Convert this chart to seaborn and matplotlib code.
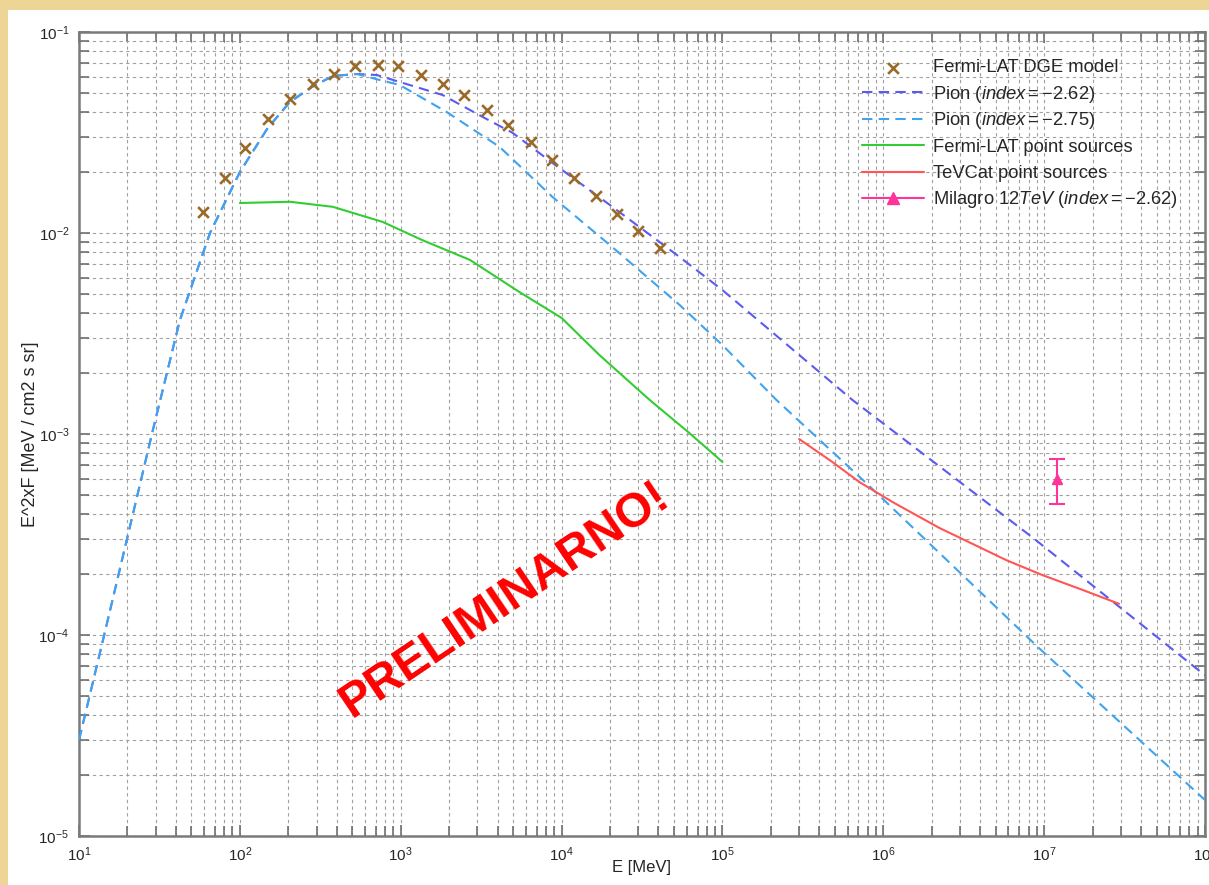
import numpy as np
import pandas as pd
import matplotlib
matplotlib.use("Agg")
import matplotlib.pyplot as plt
from matplotlib.patches import Rectangle
from matplotlib.lines import Line2D
from matplotlib.ticker import LogLocator, NullFormatter
import seaborn as sns

# ---------------- data ----------------
dge_E = [58.9, 80.7, 107, 149, 205, 284, 384, 518, 720, 958, 1330, 1820, 2460,
         3420, 4620, 6420, 8670, 11880, 16260, 21970, 30070, 41200]
dge_F = [0.0127, 0.0188, 0.0265, 0.0369, 0.0464, 0.0551, 0.0618, 0.0678, 0.0686,
         0.0678, 0.061, 0.0551, 0.0486, 0.0409, 0.0344, 0.0284, 0.0231, 0.0188,
         0.0153, 0.01245, 0.01024, 0.0084]

pion262_E = [10, 14.3, 28.4, 42.4, 65.2, 100, 149, 205, 280, 378, 533, 710, 986,
             1820, 3230, 4960, 8790, 20700, 54100, 1e5, 6.41e5, 8.41e6, 1e8]
pion262_F = [3.0e-5, 9.9e-5, 1.0e-3, 3.69e-3, 1.0e-2, 2.01e-2, 3.33e-2, 4.49e-2,
             5.32e-2, 6.04e-2, 6.18e-2, 6.11e-2, 5.64e-2, 4.86e-2, 3.78e-2, 3.15e-2,
             2.23e-2, 1.35e-2, 7.6e-3, 5.2e-3, 1.48e-3, 3.07e-4, 6.3e-5]

pion275_E = [10, 14.3, 28.4, 42.4, 65.2, 100, 149, 205, 280, 378, 533, 741, 986,
             1930, 4120, 8790, 20700, 54100, 1e5, 2.16e5, 7.83e5, 9.3e6, 1e8]
pion275_F = [3.0e-5, 9.9e-5, 1.0e-3, 3.69e-3, 1.0e-2, 2.01e-2, 3.33e-2, 4.49e-2,
             5.32e-2, 6.04e-2, 6.18e-2, 5.77e-2, 5.45e-2, 4.0e-2, 2.68e-2, 1.51e-2,
             8.5e-3, 4.39e-3, 2.77e-3, 1.48e-3, 5.7e-4, 8.6e-5, 1.51e-5]

fermi_ps_E = [100, 205, 378, 773, 1370, 2690, 5480, 1e4, 17200, 35200, 62400, 1e5]
fermi_ps_F = [1.41e-2, 1.43e-2, 1.35e-2, 1.135e-2, 9.2e-3, 7.35e-3, 5.08e-3,
              3.78e-3, 2.47e-3, 1.48e-3, 1.01e-3, 7.26e-4]

tevcat_E = [3.0e5, 4.82e5, 7.1e5, 1.14e6, 2.23e6, 3.94e6, 5.8e6, 9.7e6, 1.72e7, 2.92e7]
tevcat_F = [9.44e-4, 7.26e-4, 5.77e-4, 4.59e-4, 3.41e-4, 2.74e-4, 2.36e-4,
            1.99e-4, 1.68e-4, 1.43e-4]

milagro_E = [1.2e7]
milagro_F = [5.97e-4]
milagro_lo = [4.49e-4]
milagro_hi = [7.52e-4]

labels = [
    "Fermi-LAT DGE model",
    r"Pion $\mathit{(index = {-}2.62)}$",
    r"Pion $\mathit{(index = {-}2.75)}$",
    "Fermi-LAT point sources",
    "TeVCat point sources",
    r"Milagro $\mathit{12TeV\ (index = {-}2.62)}$",
]

# ---------------- style ----------------
sns.set_theme(style="white")
plt.rcParams["font.family"] = ["Liberation Sans", "DejaVu Sans"]
plt.rcParams["mathtext.fontset"] = "custom"
plt.rcParams["mathtext.rm"] = "Liberation Sans"
plt.rcParams["mathtext.it"] = "Liberation Sans:italic"
plt.rcParams["mathtext.default"] = "regular"
plt.rcParams["axes.unicode_minus"] = False

c_dge = "#9a6a28"
c_p262 = "#5b5bf0"
c_p275 = "#3fa3ee"
c_green = "#33cc33"
c_red = "#ff5555"
c_mil = "#ff3399"

fig = plt.figure(figsize=(12.09, 8.85), dpi=100)
fig.patch.set_facecolor("#edd596")
fig.patches.append(Rectangle((8 / 1209, 0), 1 - 8 / 1209, 1 - 10 / 885,
                             transform=fig.transFigure, facecolor="white",
                             edgecolor="none", zorder=-10))

ax = fig.add_axes([79 / 1209, 1 - 836 / 885, (1205 - 79) / 1209, (836 - 32) / 885])
ax.set_facecolor("white")
ax.set_xscale("log")
ax.set_yscale("log")
ax.set_xlim(10, 1e8)
ax.set_ylim(1e-5, 1e-1)

# ---------------- marks ----------------
sns.lineplot(x=pion262_E, y=pion262_F, ax=ax, color=c_p262, lw=1.5,
             linestyle=(0, (5, 3)), label=labels[1], sort=False, zorder=3)
sns.lineplot(x=pion275_E, y=pion275_F, ax=ax, color=c_p275, lw=1.5,
             linestyle=(0, (5, 3)), label=labels[2], sort=False, zorder=3)
sns.lineplot(x=fermi_ps_E, y=fermi_ps_F, ax=ax, color=c_green, lw=1.5,
             label=labels[3], sort=False, zorder=3)
sns.lineplot(x=tevcat_E, y=tevcat_F, ax=ax, color=c_red, lw=1.5,
             label=labels[4], sort=False, zorder=3)
sns.scatterplot(x=dge_E, y=dge_F, ax=ax, marker="x", color=c_dge, s=60,
                linewidth=1.9, label=labels[0], zorder=4)

mF = np.array(milagro_F)
yerr = np.vstack([mF - np.array(milagro_lo), np.array(milagro_hi) - mF])
ax.errorbar(milagro_E, milagro_F, yerr=yerr, fmt="^", color=c_mil,
            markersize=7, capsize=6, elinewidth=1.5, capthick=1.5, zorder=5)

# ---------------- axes cosmetics ----------------
ax.xaxis.set_major_locator(LogLocator(base=10, numticks=20))
ax.xaxis.set_minor_locator(LogLocator(base=10, subs=np.arange(2, 10), numticks=100))
ax.yaxis.set_major_locator(LogLocator(base=10, numticks=20))
ax.yaxis.set_minor_locator(LogLocator(base=10, subs=np.arange(2, 10), numticks=100))
ax.xaxis.set_minor_formatter(NullFormatter())
ax.yaxis.set_minor_formatter(NullFormatter())

ax.grid(True, which="both", color="#a0a0a0", linestyle=(0, (3, 3)), linewidth=0.8)
ax.tick_params(which="both", direction="in", top=True, right=True,
               bottom=True, left=True, color="#707070", width=1.2)
ax.tick_params(which="major", length=8, labelsize=11, pad=7)
ax.tick_params(which="minor", length=7)
for s in ax.spines.values():
    s.set_color("#7a7a7a")
    s.set_linewidth(1.8)

ax.set_xlabel("E [MeV]", fontsize=12)
ax.set_ylabel("E^2xF [MeV / cm2 s sr]", fontsize=13)
ax.xaxis.set_label_coords(0.5, -0.03)
ax.yaxis.set_label_coords(-0.0355, 0.5)

# ---------------- legend (one row per entry, evenly spaced) ----------------
h, l = ax.get_legend_handles_labels()
hd = dict(zip(l, h))
mil_handle = Line2D([], [], color=c_mil, marker="^", markersize=8, lw=1.5)
handles = [hd[labels[0]], hd[labels[1]], hd[labels[2]], hd[labels[3]],
           hd[labels[4]], mil_handle]
row_px = [68, 94.4, 120.8, 147.2, 173.6, 200]
legs = []
for hnd, lab, ypx in zip(handles, labels, row_px):
    leg = ax.legend(handles=[hnd], labels=[lab], loc="center left",
                    bbox_to_anchor=((862 - 79) / 1126, (836 - ypx) / 804),
                    frameon=False, fontsize=13.2, handlelength=3.4,
                    handletextpad=0.45, borderpad=0, borderaxespad=0)
    legs.append(leg)
for leg in legs[:-1]:
    ax.add_artist(leg)

# ---------------- watermark ----------------
ax.text(0.378, 0.2935, "PRELIMINARNO!", transform=ax.transAxes,
        rotation=34, ha="center", va="center", color="#ff0000",
        fontsize=34.5, fontweight="bold", zorder=6)

fig.savefig("out.png", dpi=100, facecolor=fig.get_facecolor())
